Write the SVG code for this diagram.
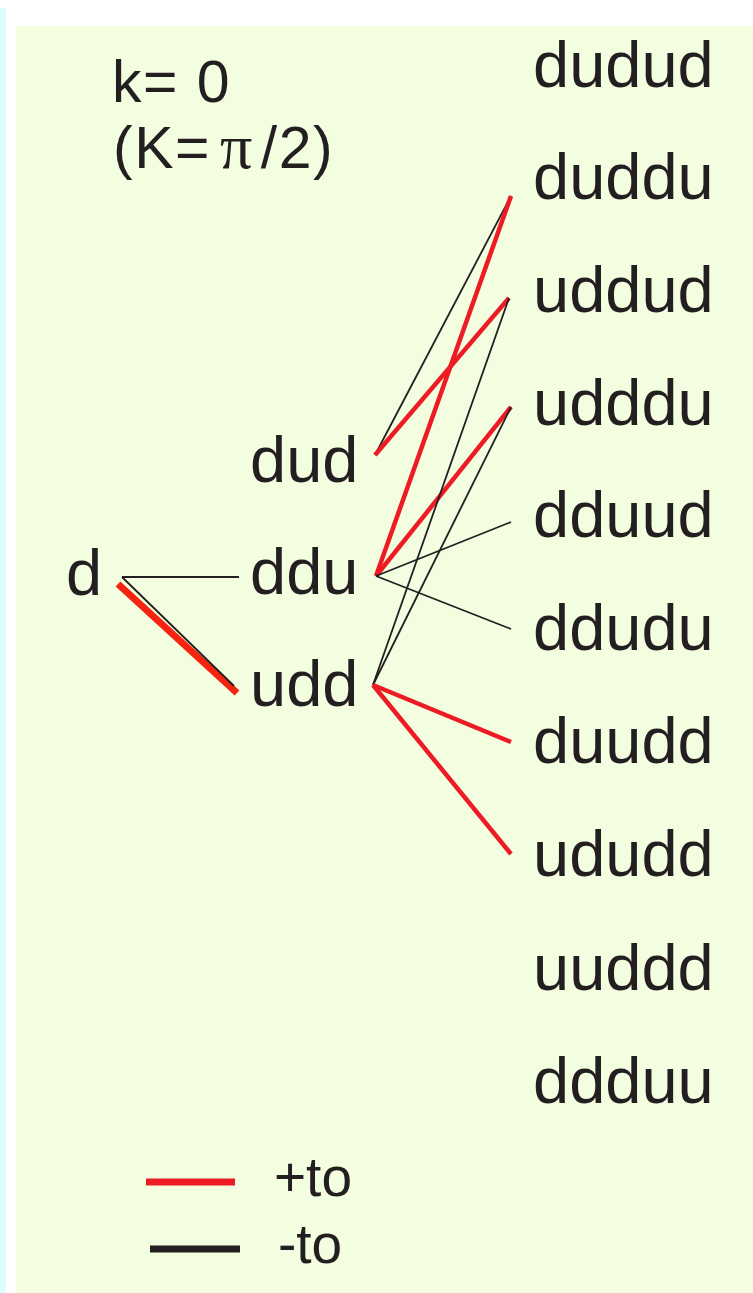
<svg xmlns="http://www.w3.org/2000/svg" width="753" height="1293" viewBox="0 0 753 1293">
  <style>
    .lbl { font-family: "Liberation Sans", Arial, sans-serif; font-size: 65px; fill: #231f20; }
    .ttl { font-family: "Liberation Sans", Arial, sans-serif; font-size: 59px; fill: #231f20; letter-spacing: 1.5px; }
    .key { font-family: "Liberation Sans", Arial, sans-serif; font-size: 55px; fill: #231f20; }
    .plus { stroke: #ed1c24; stroke-width: 4.5; stroke-linecap: butt; fill: none; }
    .minus { stroke: #231f20; stroke-width: 1.8; fill: none; }
  </style>

  <!-- page background -->
  <rect x="0" y="0" width="753" height="1293" fill="#ffffff"/>
  <rect x="0" y="8" width="6" height="1285" fill="#e0fdfe"/>
  <rect x="16" y="26" width="737" height="1267" fill="#f3fde0"/>

  <!-- title -->
  <g id="title">
    <text class="ttl" x="112" y="102" xml:space="preserve">k= 0</text>
    <text class="ttl" x="113" y="168">(K=<tspan dx="9" font-family="'Liberation Serif', serif" font-size="64">π</tspan><tspan dx="7">/2)</tspan></text>
  </g>

  <!-- connectors -->
  <g id="connectors">
    <line class="minus" x1="122" y1="577" x2="239" y2="577"/>
    <line x1="118" y1="584" x2="237" y2="693" stroke="#f5230f" stroke-width="7"/>
    <line class="minus" x1="122" y1="577" x2="234" y2="686"/>

    <line class="minus" x1="375" y1="455" x2="511" y2="196"/>
    <line class="plus" x1="375" y1="455" x2="509" y2="298"/>

    <line class="plus" x1="376" y1="576" x2="511" y2="196"/>
    <line class="plus" x1="376" y1="576" x2="511" y2="407"/>
    <line class="minus" x1="376" y1="576" x2="511" y2="522"/>
    <line class="minus" x1="376" y1="576" x2="511" y2="629"/>

    <line class="minus" x1="373" y1="685" x2="509" y2="298"/>
    <line class="minus" x1="373" y1="685" x2="511" y2="407"/>
    <line class="plus" x1="373" y1="685" x2="511" y2="742"/>
    <line class="plus" x1="373" y1="685" x2="511" y2="854"/>
  </g>

  <!-- level 1 -->
  <g id="n-d"><text class="lbl" x="66" y="595">d</text></g>

  <!-- level 3 -->
  <g id="n-dud"><text class="lbl" x="250" y="482">dud</text></g>
  <g id="n-ddu"><text class="lbl" x="250" y="594">ddu</text></g>
  <g id="n-udd"><text class="lbl" x="250" y="706">udd</text></g>

  <!-- level 5 -->
  <g id="n-dudud"><text class="lbl" x="533" y="87">dudud</text></g>
  <g id="n-duddu"><text class="lbl" x="533" y="199">duddu</text></g>
  <g id="n-uddud"><text class="lbl" x="533" y="312">uddud</text></g>
  <g id="n-udddu"><text class="lbl" x="533" y="425">udddu</text></g>
  <g id="n-dduud"><text class="lbl" x="533" y="537">dduud</text></g>
  <g id="n-ddudu"><text class="lbl" x="533" y="650">ddudu</text></g>
  <g id="n-duudd"><text class="lbl" x="533" y="763">duudd</text></g>
  <g id="n-ududd"><text class="lbl" x="533" y="876">ududd</text></g>
  <g id="n-uuddd"><text class="lbl" x="533" y="990">uuddd</text></g>
  <g id="n-ddduu"><text class="lbl" x="533" y="1103">ddduu</text></g>

  <!-- legend -->
  <g id="legend">
    <line x1="146" y1="1182" x2="235" y2="1182" stroke="#ed1c24" stroke-width="7"/>
    <line x1="150" y1="1249" x2="240" y2="1249" stroke="#231f20" stroke-width="7"/>
    <text class="key" x="274" y="1196">+to</text>
    <text class="key" x="278" y="1263">-to</text>
  </g>
</svg>
